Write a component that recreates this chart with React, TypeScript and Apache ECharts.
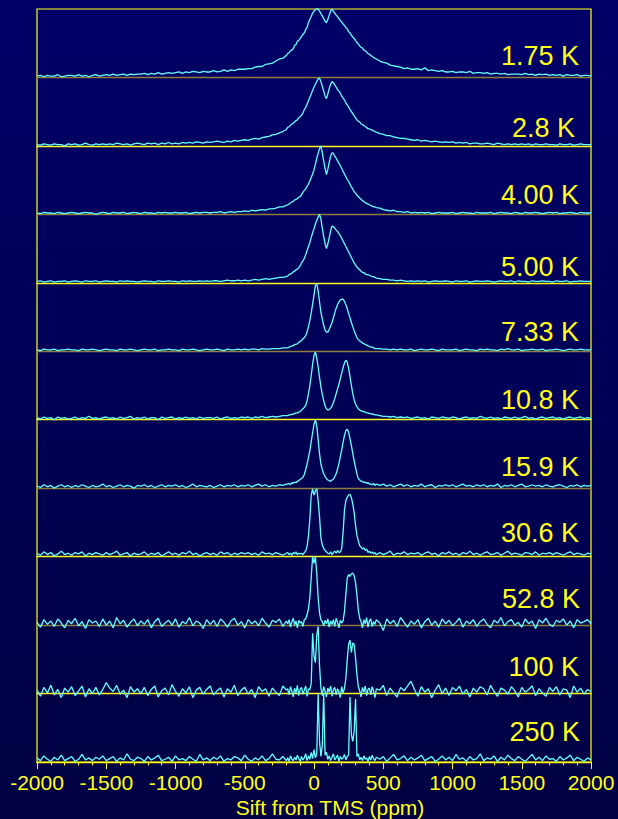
import { useEffect, useRef } from 'react';
import * as echarts from 'echarts';

// Sampling grid in ppm: coarse in the wings, finer across the two lines.
function steps(from: number, to: number, by: number): number[] {
  const out: number[] = [];
  for (let v = from; v <= to; v += by) out.push(v);
  return out;
}
const ppm = [...steps(-2000, -200, 25), ...steps(-190, 450, 10), ...steps(475, 2000, 25)];

const temperatures = ['1.75 K', '2.8 K', '4.00 K', '5.00 K', '7.33 K', '10.8 K', '15.9 K', '30.6 K', '52.8 K', '100 K', '250 K'];

const xTickValues = [-2000, -1500, -1000, -500, 0, 500, 1000, 1500, 2000];

// Intensities in percent of panel height (rows: -2000..-200 by 25, -190..450 by 10, 475..2000 by 25)
const spec175 = [
  2, 3, 1, 3, 2, 2, 4, 1, 2, 3,
  3, 2, 4, 2, 3, 1, 3, 4, 2, 3,
  4, 3, 5, 3, 4, 5, 3, 5, 4, 5,
  5, 6, 4, 6, 5, 7, 5, 6, 7, 6,
  7, 8, 6, 8, 7, 9, 8, 7, 9, 8,
  8, 10, 8, 9, 11, 9, 11, 10, 12, 12,
  12, 13, 13, 15, 16, 16, 19, 20, 21, 24,
  27, 28, 32,
  35, 36, 39, 40, 42, 47, 48, 53, 54, 57,
  60, 63, 65, 70, 73, 80, 85, 89, 94, 97,
  99, 100, 100, 97, 93, 90, 86, 82, 80, 85,
  91, 97, 100, 97, 94, 91, 89, 86, 83, 81,
  78, 76, 73, 71, 67, 65, 62, 59, 57, 54,
  51, 49, 46, 44, 43, 40, 39, 37, 35, 34,
  32, 31, 29, 28, 27,
  24, 22, 21, 18, 17, 16, 15, 13, 14, 12,
  12, 13, 11, 14, 10, 11, 10, 9, 10, 8,
  8, 9, 7, 8, 8, 7, 9, 6, 7, 7,
  6, 7, 5, 6, 6, 5, 6, 4, 5, 5,
  5, 4, 6, 4, 5, 3, 5, 4, 5, 3,
  4, 3, 4, 2, 4, 3, 3, 4, 2, 3,
  3, 2,
];

const spec28 = [
  2, 1, 3, 2, 1, 3, 2, 2, 0, 3,
  2, 3, 1, 2, 4, 2, 1, 3, 2, 3,
  2, 3, 2, 4, 3, 2, 3, 1, 3, 4,
  3, 2, 4, 3, 4, 2, 4, 3, 5, 3,
  4, 3, 5, 4, 5, 4, 6, 5, 4, 6,
  5, 6, 7, 6, 5, 7, 6, 8, 7, 8,
  9, 8, 10, 11, 10, 12, 13, 14, 16, 17,
  19, 21, 24,
  27, 28, 30, 32, 33, 35, 37, 38, 41, 43,
  45, 48, 53, 56, 61, 66, 71, 76, 81, 86,
  90, 94, 98, 99, 94, 87, 80, 73, 69, 76,
  84, 90, 94, 92, 89, 86, 82, 80, 77, 73,
  70, 67, 63, 60, 57, 53, 50, 47, 44, 41,
  38, 36, 35, 32, 31, 30, 28, 27, 25, 25,
  24, 23, 22, 21, 20,
  18, 17, 15, 15, 13, 12, 11, 11, 10, 9,
  8, 9, 7, 8, 7, 6, 7, 6, 5, 6,
  5, 6, 4, 5, 4, 5, 3, 4, 4, 3,
  3, 4, 3, 2, 4, 3, 2, 3, 2, 3,
  2, 3, 2, 3, 1, 3, 2, 2, 3, 2,
  2, 1, 3, 2, 2, 3, 1, 2, 3, 2,
  2, 2,
];

const spec400 = [
  2, 1, 3, 2, 2, 1, 3, 2, 1, 2,
  3, 2, 1, 2, 3, 2, 2, 0, 2, 3,
  2, 1, 3, 2, 2, 3, 1, 2, 3, 2,
  1, 3, 2, 2, 1, 3, 2, 3, 2, 2,
  3, 2, 2, 3, 1, 2, 3, 2, 3, 3,
  2, 3, 3, 4, 2, 3, 4, 3, 4, 4,
  5, 4, 6, 5, 6, 7, 6, 8, 8, 9,
  11, 11, 13,
  14, 15, 17, 18, 19, 21, 22, 23, 25, 26,
  29, 32, 35, 37, 41, 44, 49, 54, 59, 65,
  73, 82, 89, 96, 100, 90, 78, 67, 58, 66,
  76, 85, 90, 89, 85, 82, 78, 75, 71, 67,
  63, 59, 55, 51, 48, 44, 40, 37, 33, 31,
  28, 26, 24, 22, 20, 19, 17, 16, 15, 14,
  13, 12, 11, 11, 10,
  9, 7, 6, 5, 6, 4, 4, 3, 4, 2,
  3, 2, 3, 2, 3, 1, 2, 3, 2, 2,
  2, 3, 1, 2, 3, 2, 2, 1, 3, 2,
  2, 2, 3, 1, 2, 3, 2, 2, 1, 3,
  2, 1, 3, 2, 2, 3, 2, 1, 2, 3,
  2, 3, 1, 2, 2, 3, 2, 1, 3, 2,
  2, 2,
];

const spec500 = [
  2, 3, 1, 2, 3, 1, 2, 2, 3, 1,
  2, 3, 2, 1, 3, 2, 2, 3, 1, 2,
  3, 2, 2, 1, 3, 2, 3, 2, 2, 1,
  2, 3, 2, 2, 1, 3, 2, 2, 3, 2,
  2, 1, 3, 2, 3, 2, 2, 3, 2, 3,
  2, 3, 3, 2, 3, 4, 3, 3, 4, 3,
  4, 3, 4, 5, 4, 5, 6, 5, 6, 7,
  8, 8, 9,
  10, 12, 13, 14, 16, 17, 19, 20, 22, 25,
  29, 32, 36, 41, 47, 53, 59, 66, 73, 79,
  86, 91, 96, 100, 93, 80, 68, 57, 50, 57,
  66, 76, 83, 82, 80, 77, 75, 72, 69, 65,
  61, 57, 53, 49, 45, 41, 37, 33, 29, 26,
  23, 21, 19, 17, 15, 15, 13, 12, 12, 11,
  10, 9, 9, 8, 7,
  6, 5, 5, 4, 4, 3, 4, 3, 2, 3,
  2, 3, 2, 3, 1, 2, 3, 2, 2, 3,
  2, 1, 3, 2, 2, 3, 1, 2, 3, 2,
  2, 3, 2, 1, 2, 3, 2, 2, 3, 1,
  3, 2, 2, 1, 3, 2, 2, 3, 2, 2,
  1, 3, 2, 2, 3, 1, 2, 2, 3, 2,
  2, 2,
];

const spec733 = [
  2, 1, 3, 2, 2, 3, 1, 2, 2, 3,
  2, 2, 1, 3, 2, 2, 3, 2, 1, 2,
  3, 2, 2, 1, 3, 2, 2, 3, 2, 1,
  2, 3, 2, 2, 3, 1, 2, 2, 3, 2,
  2, 1, 3, 2, 2, 3, 2, 1, 2, 3,
  2, 2, 3, 2, 1, 3, 2, 2, 3, 2,
  3, 2, 3, 3, 2, 4, 3, 3, 4, 4,
  4, 5, 5,
  5, 6, 7, 8, 8, 10, 10, 11, 13, 14,
  16, 18, 20, 23, 28, 36, 45, 56, 69, 82,
  96, 99, 88, 72, 57, 47, 38, 31, 28, 28,
  32, 37, 42, 49, 56, 63, 68, 72, 75, 76,
  76, 73, 68, 62, 55, 49, 42, 36, 30, 25,
  20, 17, 15, 14, 12, 11, 10, 9, 8, 7,
  6, 6, 5, 4, 4,
  4, 3, 3, 2, 3, 2, 3, 2, 2, 3,
  1, 2, 3, 2, 2, 3, 2, 1, 3, 2,
  2, 2, 3, 1, 2, 3, 2, 2, 1, 3,
  2, 3, 2, 2, 1, 3, 2, 4, 2, 2,
  3, 1, 2, 2, 3, 2, 2, 3, 1, 2,
  2, 3, 2, 1, 2, 3, 2, 2, 3, 2,
  2, 2,
];

const spec108 = [
  3, 1, 4, 2, 3, 0, 4, 2, 3, 1,
  2, 4, 1, 3, 2, 5, 2, 3, 1, 3,
  4, 2, 3, 1, 4, 2, 3, 5, 1, 3,
  2, 4, 1, 3, 3, 0, 4, 2, 3, 4,
  1, 3, 2, 4, 2, 3, 1, 4, 2, 3,
  3, 2, 4, 1, 3, 4, 2, 3, 2, 4,
  3, 4, 2, 4, 3, 5, 3, 4, 5, 4,
  5, 6, 6,
  6, 7, 7, 8, 8, 9, 10, 10, 11, 12,
  14, 16, 18, 21, 28, 38, 50, 65, 81, 94,
  99, 90, 77, 62, 48, 37, 28, 20, 16, 14,
  15, 17, 20, 25, 31, 38, 45, 52, 60, 68,
  76, 83, 87, 84, 75, 63, 50, 38, 29, 23,
  19, 16, 14, 13, 12, 12, 11, 10, 10, 9,
  9, 8, 8, 7, 7,
  6, 5, 5, 4, 5, 3, 4, 3, 4, 2,
  3, 4, 2, 3, 1, 4, 3, 2, 4, 3,
  2, 4, 3, 1, 3, 4, 2, 3, 2, 5,
  3, 2, 4, 2, 3, 1, 4, 3, 2, 4,
  2, 3, 5, 2, 3, 1, 3, 4, 2, 3,
  4, 2, 3, 1, 3, 4, 2, 3, 4, 2,
  3, 2,
];

const spec159 = [
  3, 1, 5, 2, 4, 0, 3, 5, 2, 4,
  1, 4, 2, 5, 3, 1, 4, 2, 3, 6,
  2, 4, 1, 3, 5, 2, 4, 3, 0, 4,
  3, 5, 2, 4, 1, 3, 5, 2, 4, 3,
  5, 2, 4, 1, 3, 6, 2, 4, 3, 2,
  4, 1, 3, 5, 2, 4, 3, 5, 2, 4,
  3, 5, 2, 4, 6, 3, 5, 2, 4, 3,
  5, 4, 6,
  6, 7, 5, 8, 7, 9, 8, 10, 11, 13,
  14, 16, 20, 27, 35, 45, 55, 68, 81, 93,
  100, 91, 71, 50, 35, 27, 21, 17, 14, 12,
  11, 10, 12, 13, 17, 21, 28, 36, 46, 56,
  67, 77, 84, 86, 82, 72, 62, 51, 40, 30,
  21, 14, 12, 10, 10, 8, 9, 7, 8, 6,
  6, 5, 7, 4, 6,
  4, 6, 3, 5, 2, 4, 6, 3, 5, 2,
  4, 3, 6, 2, 4, 5, 1, 4, 3, 5,
  3, 5, 2, 4, 6, 3, 4, 2, 5, 3,
  5, 2, 4, 3, 6, 1, 4, 3, 5, 2,
  4, 6, 2, 3, 5, 3, 4, 2, 5, 3,
  2, 4, 5, 3, 1, 4, 3, 5, 2, 4,
  3, 4,
];

const spec306 = [
  5, 2, 7, 3, 6, 1, 4, 8, 3, 5,
  2, 6, 4, 7, 1, 5, 3, 6, 4, 2,
  6, 3, 5, 8, 2, 4, 6, 1, 5, 3,
  4, 7, 2, 5, 3, 6, 1, 4, 7, 3,
  5, 2, 6, 4, 8, 3, 5, 1, 4, 6,
  3, 5, 2, 7, 4, 6, 2, 5, 3, 6,
  4, 6, 3, 5, 2, 7, 4, 5, 3, 6,
  4, 2, 5,
  6, 3, 5, 2, 6, 4, 7, 3, 5, 4,
  5, 3, 6, 8, 15, 30, 55, 90, 99, 90,
  96, 99, 82, 58, 27, 17, 12, 9, 7, 5,
  4, 7, 3, 6, 8, 5, 9, 6, 7, 12,
  35, 68, 82, 87, 90, 91, 86, 77, 64, 46,
  31, 23, 16, 14, 11, 13, 9, 11, 6, 8,
  5, 7, 4, 6, 3,
  6, 3, 5, 8, 2, 5, 4, 7, 3, 5,
  4, 6, 2, 5, 7, 3, 5, 1, 6, 4,
  7, 3, 5, 2, 6, 4, 8, 3, 5, 2,
  5, 7, 3, 4, 6, 2, 5, 8, 3, 5,
  4, 2, 6, 5, 3, 7, 2, 5, 4, 6,
  3, 6, 4, 2, 5, 7, 3, 5, 4, 2,
  5, 4,
];

const spec528 = [
  4, -3, 8, 1, 6, -2, 9, 3, -4, 7,
  2, 10, -1, 5, -5, 8, 3, 6, -2, 9,
  0, 6, -4, 11, 2, 7, -3, 4, 9, -1,
  6, 1, 8, -4, 5, 10, -2, 3, 7, 0,
  9, -3, 5, 2, 11, -1, 6, 3, -5, 8,
  1, 7, -2, 9, 4, -3, 6, 10, 0, 5,
  -4, 8, 2, 6, -1, 10, 3, -3, 7, 4,
  9, -2, 6,
  2, 8, -3, 5, 10, 0, 6, -4, 7, 3,
  5, -2, 8, 9, 15, 24, 40, 70, 100, 90,
  100, 75, 40, 18, 8, 5, -1, 7, 2, 9,
  -3, 6, 1, 8, -2, 10, 4, -4, 7, 3,
  6, 20, 45, 68, 74, 71, 75, 76, 72, 62,
  44, 22, 10, 5, -4, 8, 2, 11, -3, 6,
  9, -2, 5, 1, 8,
  3, -8, 9, 2, 7, -2, 11, 4, -3, 6,
  1, 8, -4, 5, 10, 0, 6, -3, 9, 2,
  7, -1, 4, 10, -3, 6, 2, 8, -2, 5,
  9, 1, -4, 7, 3, 11, -1, 5, 8, 0,
  4, -3, 9, 2, 6, -5, 8, 3, 10, 1,
  -2, 7, 4, 9, 0, 6, -4, 8, 3, 5,
  8, 2,
];

const spec100 = [
  5, -4, 9, 1, 12, -2, 6, -6, 8, 2,
  10, -3, 4, 11, -5, 7, 0, 9, -2, 6,
  16, 8, 3, 12, -1, 5, -6, 10, 2, 7,
  0, 9, -3, 6, 11, -5, 4, 8, -2, 13,
  3, -4, 7, 1, 10, -6, 5, 9, -1, 6,
  11, -2, 4, 8, -5, 7, 2, 12, -3, 5,
  9, -1, 6, -6, 10, 3, 7, -4, 8, 2,
  -3, 11, 5,
  7, -2, 10, 4, -5, 8, 1, 12, -3, 6,
  9, -1, 5, 11, -4, 7, 6, 15, 88, 55,
  45, 85, 98, 40, 8, -3, 10, 4, -5, 8,
  2, 11, -4, 6, 9, -2, 7, 3, -6, 10,
  1, 8, 22, 50, 72, 78, 60, 74, 72, 52,
  28, 10, 4, -5, 9, 2, 11, -3, 6, 8,
  -2, 10, 4, -6, 7,
  5, 12, -3, 8, 1, -5, 9, 4, 11, 18,
  6, -4, 10, 2, 7, -6, 5, 13, 0, 8,
  -3, 9, 4, 11, -1, 6, -5, 8, 2, 10,
  7, -2, 12, 3, -4, 8, 5, -1, 10, 4,
  -5, 9, 2, 6, 11, -3, 7, 1, -4, 9,
  3, 10, -2, 7, 5, -6, 11, 2, 8, -1,
  6, 3,
];

const spec250 = [
  6, 2, 9, 4, 1, 7, 3, 10, 2, 5,
  8, 1, 4, 11, 3, 6, 2, 7, 4, 9,
  2, 5, 8, 1, 6, 3, 12, 4, 2, 7,
  5, 1, 8, 3, 6, 10, 2, 4, 7, 1,
  9, 3, 5, 2, 8, 4, 1, 11, 3, 6,
  2, 7, 4, 9, 1, 5, 3, 8, 6, 2,
  10, 4, 1, 6, 3, 9, 2, 5, 12, 4,
  3, 8, 2,
  6, 1, 9, 4, 2, 7, 3, 10, 5, 1,
  8, 3, 6, 12, 2, 9, 4, 14, 5, 18,
  6, 12, 100, 30, 8, 25, 100, 10, 14, 4,
  9, 2, 7, 12, 3, 6, 10, 1, 8, 4,
  6, 11, 3, 8, 10, 95, 40, 30, 45, 92,
  8, 12, 3, 7, 2, 9, 4, 6, 1, 8,
  3, 10, 5, 2, 7,
  4, 8, 1, 6, 11, 3, 5, 9, 2, 7,
  3, 6, 10, 2, 5, 8, 1, 4, 9, 3,
  7, 2, 11, 4, 6, 1, 8, 3, 5, 12,
  2, 6, 4, 9, 1, 7, 3, 10, 5, 2,
  8, 4, 1, 6, 11, 3, 7, 2, 9, 4,
  5, 1, 8, 3, 6, 10, 2, 7, 4, 1,
  6, 3,
];

const spectra = [spec175, spec28, spec400, spec500, spec733, spec108, spec159, spec306, spec528, spec100, spec250];

// Layout
const W = 618;
const H = 819;
const FRAME_L = 37;
const FRAME_R = 591;
const FRAME_T = 9;
const FRAME_B = 762;
const PANEL_H = (FRAME_B - FRAME_T) / temperatures.length;
const labelRight = [579, 575, 579, 579, 579, 579, 579, 579, 580, 579, 580];
const labelRise = [21.5, 18, 19, 16, 19, 20, 21.5, 23.7, 26, 27, 30];

const YELLOW = '#ffff1a';
const OLIVE = '#8f7d3a';
const TRACE = '#66ffff';
const FONT = '"Liberation Sans", Arial, Helvetica, sans-serif';

function buildOption(): echarts.EChartsOption {
  const n = temperatures.length;
  const grid: any[] = [];
  const xAxis: any[] = [];
  const yAxis: any[] = [];
  const series: any[] = [];

  for (let i = 0; i < n; i++) {
    grid.push({
      left: FRAME_L,
      top: FRAME_T + i * PANEL_H,
      width: FRAME_R - FRAME_L,
      height: PANEL_H,
      outerBoundsMode: 'none',
    });
    xAxis.push({
      type: 'value',
      gridIndex: i,
      min: -2000,
      max: 2000,
      position: 'bottom',
      axisLine: { show: true, onZero: false, lineStyle: { color: i % 2 === 0 && i < n - 1 ? OLIVE : YELLOW, width: 1.3 } },
      axisTick: { show: false },
      axisLabel: { show: false },
      splitLine: { show: false },
    });
    yAxis.push({ type: 'value', gridIndex: i, min: 0, max: 100, show: false });
    series.push({
      type: 'line',
      xAxisIndex: i,
      yAxisIndex: i,
      data: ppm.map((x, k) => [x, spectra[i][k]]),
      showSymbol: false,
      symbol: 'none',
      clip: false,
      silent: true,
      z: 5,
      lineStyle: { color: TRACE, width: 1.3 },
    });
  }

  // Outer frame with the ppm scale
  grid.push({
    left: FRAME_L,
    top: FRAME_T,
    width: FRAME_R - FRAME_L,
    height: FRAME_B - FRAME_T,
    show: true,
    borderColor: YELLOW,
    borderWidth: 1.2,
    backgroundColor: 'transparent',
    outerBoundsMode: 'none',
  });
  xAxis.push({
    type: 'value',
    gridIndex: n,
    position: 'top',
    min: -2000,
    max: 2000,
    interval: 500,
    axisLine: { show: true, lineStyle: { color: YELLOW, width: 1.2 } },
    axisTick: { show: true, inside: true, length: 7, lineStyle: { color: YELLOW, width: 1 } },
    minorTick: { show: true, splitNumber: 5, length: 3.5, lineStyle: { color: YELLOW, width: 1 } },
    axisLabel: { show: false },
    splitLine: { show: false },
  });
  xAxis.push({
    type: 'value',
    gridIndex: n,
    position: 'bottom',
    min: xTickValues[0],
    max: xTickValues[xTickValues.length - 1],
    interval: 500,
    axisLine: { show: true, lineStyle: { color: YELLOW, width: 1.2 } },
    axisTick: { show: false },
    axisLabel: {
      show: true,
      color: YELLOW,
      fontSize: 21,
      fontFamily: FONT,
      margin: 10,
      showMinLabel: true,
      showMaxLabel: true,
      hideOverlap: false,
      formatter: (v: number) => String(v),
    },
    splitLine: { show: false },
  });
  yAxis.push({ type: 'value', gridIndex: n, min: 0, max: 1, show: false });

  const graphic: any[] = temperatures.map((t, i) => ({
    type: 'text',
    x: labelRight[i],
    y: FRAME_T + (i + 1) * PANEL_H - labelRise[i],
    silent: true,
    z: 10,
    style: {
      text: t,
      fill: YELLOW,
      font: `27px ${FONT}`,
      textAlign: 'right',
      textVerticalAlign: 'middle',
    },
  }));
  graphic.push({
    type: 'text',
    x: 330,
    y: 807,
    silent: true,
    style: {
      text: 'Sift from TMS (ppm)',
      fill: YELLOW,
      font: `21px ${FONT}`,
      textAlign: 'center',
      textVerticalAlign: 'middle',
    },
  });

  return {
    animation: false,
    backgroundColor: {
      type: 'linear',
      x: 0,
      y: 0,
      x2: 0,
      y2: 1,
      colorStops: [
        { offset: 0, color: '#000068' },
        { offset: 1, color: '#000042' },
      ],
    } as any,
    grid,
    xAxis,
    yAxis,
    series,
    graphic,
  } as echarts.EChartsOption;
}

export default function App() {
  const ref = useRef<HTMLDivElement>(null);

  useEffect(() => {
    if (!ref.current) return;
    const chart = echarts.init(ref.current, undefined, { renderer: 'svg', width: W, height: H });
    chart.setOption(buildOption());
    return () => chart.dispose();
  }, []);

  return <div ref={ref} style={{ position: 'fixed', left: 0, top: 0, width: W, height: H }} />;
}
